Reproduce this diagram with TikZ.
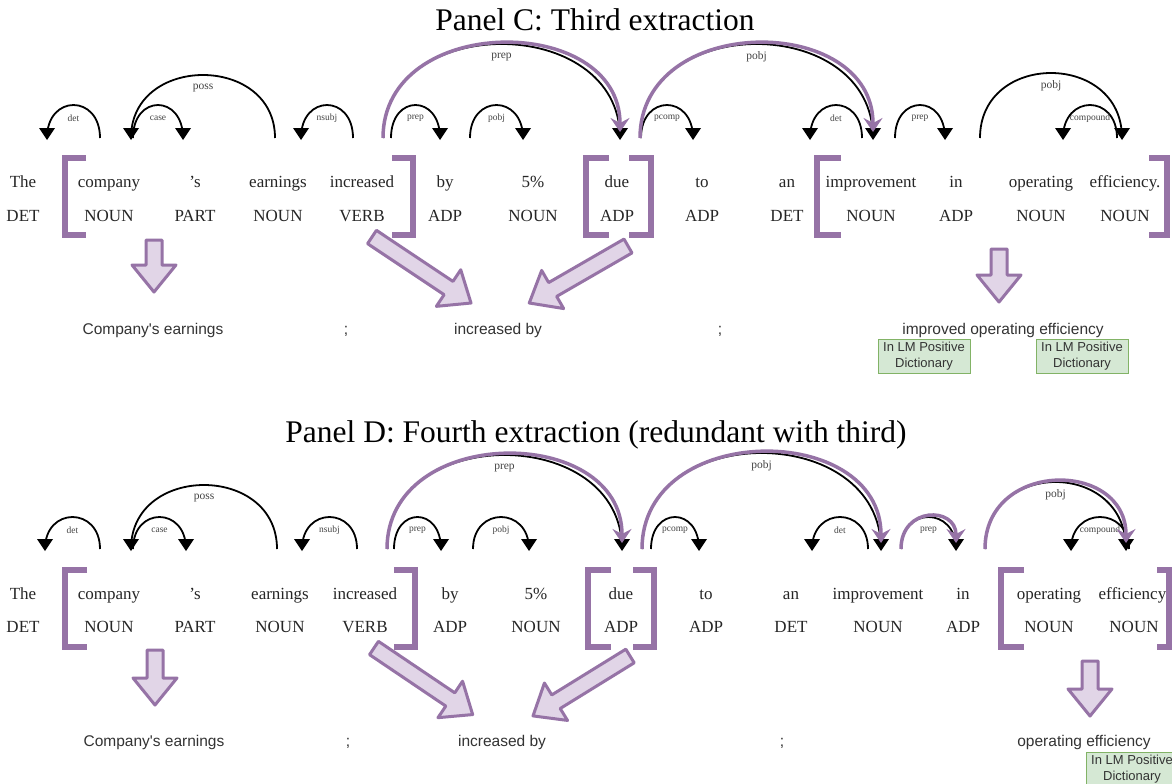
\documentclass[tikz,border=0pt]{standalone}
\usepackage{fontspec}
\setmainfont{Liberation Serif}
\newfontfamily\sansf{Liberation Sans}
\usetikzlibrary{arrows.meta,calc}
\definecolor{pstroke}{HTML}{9673A6}
\definecolor{pfill}{HTML}{E1D5E7}
\definecolor{gstroke}{HTML}{82B366}
\definecolor{gfill}{HTML}{D5E8D4}
\definecolor{txtgrey}{HTML}{333333}
\definecolor{lblgrey}{HTML}{444444}

% dependency arc: #1 x start (no tip), #2 x end (tip), #3 foot y, #4 top y, #5 name, #6 label, #7 label style
\newcommand\deparc[7]{%
  \pgfmathsetmacro\cc{(#3-#4)/0.75}%
  \pgfmathsetmacro\mx{(#1+#2)/2}%
  \coordinate (#5a) at (#1,#3);
  \coordinate (#5b) at (#2,#3);
  \draw[arcline] (#5a) .. controls +(0,-\cc) and +(0,-\cc) .. (#5b);
  \fill[arctip] ($(#5b)+(0,2)$) -- ++(-8,-12) -- ++(16,0) -- cycle;
  \node[#7] (#5l) at (\mx,#4+13) {#6};
}
% purple highlighted arc
\newcommand\purarc[5]{%
  \pgfmathsetmacro\cc{(#3-#4)/0.75}%
  \coordinate (#5a) at (#1,#3);
  \coordinate (#5b) at (#2,#3);
  \draw[purline] (#5a) .. controls +(0,-\cc) and +(0,-\cc) .. (#5b);
}
% bracket: #1 vertical x, #2 tick end x, #3 top y, #4 bottom y
\newcommand\brk[4]{\draw[brkline] (#2,#3) -- (#1,#3) -- (#1,#4) -- (#2,#4);}
% block arrow: #1 tail x, #2 tail y, #3 angle, #4 length
\newcommand\blockarrow[4]{%
  \begin{scope}[shift={(#1,#2)}, rotate=#3]
    \draw[barrow] (0,-8) -- (#4-27,-8) -- (#4-27,-22) -- (#4,0) -- (#4-27,22) -- (#4-27,8) -- (0,8) -- cycle;
  \end{scope}}

\begin{document}
\begin{tikzpicture}[x=1pt,y=-1pt,
  word/.style={anchor=base, inner sep=0pt, text=black!85, font=\fontsize{17}{20}\selectfont},
  title/.style={anchor=base, inner sep=0pt, text=black, font=\fontsize{31.5}{36}\selectfont},
  stext/.style={anchor=base, inner sep=0pt, text=txtgrey, font=\sansf\fontsize{15.5}{18}\selectfont},
  lbl/.style={inner sep=0pt, text=lblgrey, font=\fontsize{11.5}{13}\selectfont},
  slbl/.style={inner sep=0pt, text=lblgrey, font=\fontsize{9.5}{11}\selectfont},
  arcline/.style={draw=black, line width=1.8pt},
  arctip/.style={fill=black},
  purline/.style={draw=pstroke, line width=3.5pt, shorten >=6pt, -{Stealth[length=14pt,width=19pt,inset=5pt]}},
  brkline/.style={draw=pstroke, line width=6pt, line join=miter, line cap=butt},
  barrow/.style={draw=pstroke, fill=pfill, line width=3pt, line join=round},
  gbox/.style={draw=gstroke, fill=gfill, line width=1pt, minimum width=92pt, minimum height=34pt,
    inner sep=1pt, align=center, text=txtgrey, font=\sansf\fontsize{13}{15.5}\selectfont}
]
\clip (0,0) rectangle (1172,784);
\fill[white] (0,0) rectangle (1172,784);

%================ Panel C ================
\node[title] (tC) at (595,31) {Panel C: Third extraction};

\foreach \x/\w/\p [count=\i] in {23/The/DET, 109/company/NOUN, 195/’s/PART, 278/earnings/NOUN,
  362/increased/VERB, 445/by/ADP, 533/5\%/NOUN, 617/due/ADP, 702/to/ADP, 787/an/DET,
  871/improvement/NOUN, 956/in/ADP, 1041/operating/NOUN, 1125/efficiency./NOUN}{
  \node[word] (cw\i) at (\x,187.5) {\w};
  \node[word] (cp\i) at (\x,221) {\p};
}

\deparc{100}{47}{138}{105}{c1}{det}{slbl}
\deparc{133}{183}{138}{105}{c2}{case}{slbl}
\deparc{275}{131}{138}{75}{c3}{poss}{lbl}
\deparc{353}{301}{138}{105}{c4}{nsubj}{slbl}
\deparc{391}{440}{138}{105}{c5}{prep}{slbl}
\deparc{470}{523}{138}{105}{c6}{pobj}{slbl}
\deparc{383}{620}{138}{44}{c7}{prep}{lbl}
\deparc{641}{693}{138}{105}{c8}{pcomp}{slbl}
\deparc{640}{873}{138}{44}{c9}{pobj}{lbl}
\deparc{862}{810}{138}{105}{c10}{det}{slbl}
\deparc{895}{945}{138}{105}{c11}{prep}{slbl}
\deparc{980}{1122}{138}{73}{c12}{pobj}{lbl}
\deparc{1117}{1063}{138}{105}{c13}{compound}{slbl}
\purarc{383}{620}{138}{44}{pc7}
\purarc{640}{873}{138}{44}{pc9}

\brk{65}{86}{158}{235}
\brk{413}{392}{158}{235}
\brk{586}{609}{158}{235}
\brk{651}{629}{158}{235}
\brk{817}{841}{158}{235}
\brk{1167}{1149}{158}{235}

\blockarrow{154}{240}{-90}{52}
\blockarrow{372}{237}{-33.7}{119}
\blockarrow{628}{246}{-150}{114}
\blockarrow{999}{249}{-90}{53}

\node[stext] (cs1) at (153,334) {Company's earnings};
\node[stext] (cs2) at (346,334) {;};
\node[stext] (cs3) at (498,334) {increased by};
\node[stext] (cs4) at (720,334) {;};
\node[stext] (cs5) at (1003,334) {improved operating efficiency};
\node[gbox] (cg1) at (924,356) {In LM Positive\\Dictionary};
\node[gbox] (cg2) at (1082,356) {In LM Positive\\Dictionary};

%================ Panel D ================
\node[title] (tD) at (596,442) {Panel D: Fourth extraction (redundant with third)};

\foreach \x/\w/\p [count=\i] in {23/The/DET, 109/company/NOUN, 195/’s/PART, 280/earnings/NOUN,
  365/increased/VERB, 450/by/ADP, 536/5\%/NOUN, 621/due/ADP, 706/to/ADP, 791/an/DET,
  878/improvement/NOUN, 963/in/ADP, 1049/operating/NOUN, 1134/efficiency./NOUN}{
  \node[word] (dw\i) at (\x,599) {\w};
  \node[word] (dp\i) at (\x,632.5) {\p};
}

\deparc{100}{45}{549}{517}{d1}{det}{slbl}
\deparc{133}{186}{549}{517}{d2}{case}{slbl}
\deparc{277}{131}{549}{485}{d3}{poss}{lbl}
\deparc{357}{302}{549}{517}{d4}{nsubj}{slbl}
\deparc{394}{441}{549}{517}{d5}{prep}{slbl}
\deparc{473}{529}{549}{517}{d6}{pobj}{slbl}
\deparc{387}{622}{549}{455}{d7}{prep}{lbl}
\deparc{651}{699}{549}{517}{d8}{pcomp}{slbl}
\deparc{642}{881}{549}{453}{d9}{pobj}{lbl}
\deparc{868}{812}{549}{517}{d10}{det}{slbl}
\deparc{901}{956}{549}{517}{d11}{prep}{slbl}
\deparc{985}{1126}{549}{482}{d12}{pobj}{lbl}
\deparc{1129}{1071}{549}{517}{d13}{compound}{slbl}
\purarc{387}{622}{549}{455}{pd7}
\purarc{642}{881}{549}{453}{pd9}
\purarc{901}{956}{549}{517}{pd11}
\purarc{985}{1126}{549}{482}{pd12}

\brk{65}{87}{570}{647}
\brk{415}{394}{570}{647}
\brk{588}{611}{570}{647}
\brk{654}{633}{570}{647}
\brk{1001}{1024}{570}{647}
\brk{1169}{1157}{570}{647}

\blockarrow{155}{650}{-90}{55}
\blockarrow{374}{648}{-34}{119}
\blockarrow{630}{656}{-148.3}{114}
\blockarrow{1090}{661}{-90}{55}

\node[stext] (ds1) at (154,746) {Company's earnings};
\node[stext] (ds2) at (348,746) {;};
\node[stext] (ds3) at (502,746) {increased by};
\node[stext] (ds4) at (782,746) {;};
\node[stext] (ds5) at (1084,746) {operating efficiency};
\node[gbox] (dg1) at (1132,769) {In LM Positive\\Dictionary};
\end{tikzpicture}
\end{document}
